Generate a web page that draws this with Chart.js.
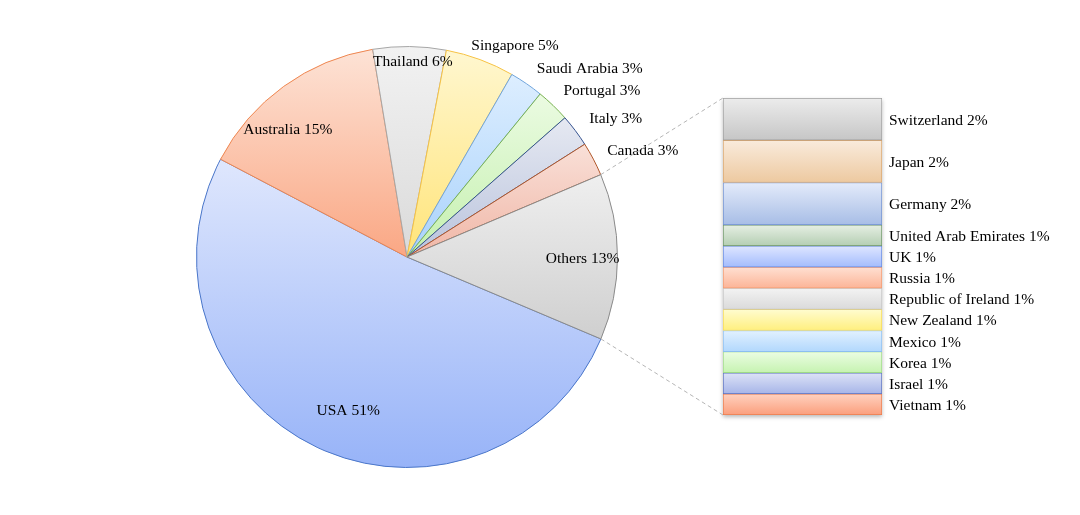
<!DOCTYPE html>
<html lang="en">
<head>
<meta charset="UTF-8">
<title>Pie of bar</title>
<script src="https://cdn.jsdelivr.net/npm/chart.js"></script>
<style>
  html, body { margin: 0; padding: 0; background: #fff; overflow: hidden; }
  .wrap { position: relative; width: 1080px; height: 515px; }
  .wrap canvas { position: absolute; left: 0; top: 0; }
</style>
</head>
<body>
<div class="wrap">
  <canvas id="pieChart" width="1080" height="515"></canvas>
  <canvas id="barChart" width="1080" height="515"></canvas>
</div>
<script>
// data (percent of total)
const mainCountries = ['USA', 'Australia', 'Thailand', 'Singapore', 'Saudi Arabia', 'Portugal', 'Italy', 'Canada'];
const mainValues = [51.3, 14.7, 5.6, 5.3, 2.6, 2.6, 2.5, 2.6];
const otherCountries = ['Switzerland', 'Japan', 'Germany', 'United Arab Emirates', 'UK', 'Russia',
  'Republic of Ireland', 'New Zealand', 'Mexico', 'Korea', 'Israel', 'Vietnam'];
const otherValues = [1.7, 1.7, 1.7, 0.85, 0.85, 0.85, 0.85, 0.85, 0.85, 0.85, 0.85, 0.85];

const othersTotal = otherValues.reduce((a, b) => a + b, 0);
const pieNames = mainCountries.concat(['Others']);
const pieValues = mainValues.concat([othersTotal]);
const pct = v => Math.round(v) + '%';

// styles
const FONT = '15.5px "Liberation Serif", "Times New Roman", serif';
const PIE_ROTATION = 112.9;
const pieFills = [
  ['#dfe7fd', '#97b3f8'], ['#fde3d6', '#faa784'], ['#f2f2f2', '#dadada'],
  ['#fff7d0', '#ffe479'], ['#ddeeff', '#a9d2fb'], ['#ebfbe2', '#c4f0ae'],
  ['#e6e9f2', '#b9c3dc'], ['#f9e0d8', '#f0b6a6'], ['#efefef', '#cfcfcf']
];
const pieBorders = ['#4a76c9', '#ee8650', '#a6a6a6', '#f6c244', '#6fa4dc', '#78b150', '#35528f', '#b0572a', '#8a8a8a'];
// label spot: [fraction of radius, angle in degrees]
const pieLabelSpots = [[0.78, 111], [0.83, 227], [0.93, 271.7], [1.13, 297], [1.25, 314],
  [1.22, 319.4], [1.19, 326.4], [1.23, 335.6], [0.834, 0.3]];

const barFills = [
  ['#ececec', '#c6c6c6'], ['#f9ebdc', '#edc9a0'], ['#e4ebfa', '#a7bde6'], ['#e6efe4', '#b4ceb2'],
  ['#dfe6ff', '#a3bcfd'], ['#ffe0d2', '#fcb497'], ['#f3f3f3', '#dadada'], ['#fffcd0', '#ffef7e'],
  ['#e2f1ff', '#b2d8fd'], ['#ebfde3', '#c6f3b1'], ['#dde3f7', '#a7b5e8'], ['#ffd2c0', '#fb9e7c']
];
const barBorders = ['#a0a0a0', '#d9a56b', '#6e8fd0', '#6e9668', '#6489e0', '#f39a6f',
  '#c5c5c5', '#f7da52', '#8bbef0', '#9ed987', '#5b71bf', '#eb7c4c'];

function sliceGradient(context) {
  const i = context.dataIndex;
  const chart = context.chart, area = chart.chartArea;
  if (!area) return pieFills[i][1];
  const cx = (area.left + area.right) / 2, cy = (area.top + area.bottom) / 2;
  const r = Math.min(area.width, area.height) / 2;
  const total = pieValues.reduce((a, b) => a + b, 0);
  let a0 = (PIE_ROTATION - 90) * Math.PI / 180;
  for (let k = 0; k < i; k++) a0 += pieValues[k] / total * 2 * Math.PI;
  const a1 = a0 + pieValues[i] / total * 2 * Math.PI;
  let yMin = cy, yMax = cy;
  for (let s = 0; s <= 60; s++) {
    const y = cy + r * Math.sin(a0 + (a1 - a0) * s / 60);
    yMin = Math.min(yMin, y); yMax = Math.max(yMax, y);
  }
  const g = chart.ctx.createLinearGradient(0, yMin, 0, yMax);
  g.addColorStop(0, pieFills[i][0]);
  g.addColorStop(1, pieFills[i][1]);
  return g;
}

function barGradient(context) {
  const i = context.datasetIndex;
  const chart = context.chart, y = chart.scales.y;
  if (!y || !chart.chartArea) return barFills[i][1];
  let s = 0;
  for (let k = 0; k < i; k++) s += otherValues[k];
  const y0 = y.getPixelForValue(s), y1 = y.getPixelForValue(s + otherValues[i]);
  const g = chart.ctx.createLinearGradient(0, Math.min(y0, y1), 0, Math.max(y0, y1));
  g.addColorStop(0, barFills[i][0]);
  g.addColorStop(1, barFills[i][1]);
  return g;
}

const pieLabels = {
  id: 'pieLabels',
  afterDatasetsDraw(chart) {
    const ctx = chart.ctx;
    ctx.save();
    ctx.font = FONT;
    ctx.fillStyle = '#000';
    ctx.textAlign = 'center';
    ctx.textBaseline = 'middle';
    chart.getDatasetMeta(0).data.forEach((arc, i) => {
      const p = arc.getProps(['x', 'y', 'outerRadius'], true);
      const a = pieLabelSpots[i][1] * Math.PI / 180;
      const d = p.outerRadius * pieLabelSpots[i][0];
      ctx.fillText(pieNames[i] + ' ' + pct(pieValues[i]), p.x + d * Math.cos(a), p.y + d * Math.sin(a) + 1);
    });
    ctx.restore();
  }
};

const pieChart = new Chart(document.getElementById('pieChart'), {
  type: 'pie',
  data: {
    labels: pieNames,
    datasets: [{
      data: pieValues,
      backgroundColor: sliceGradient,
      borderColor: pieBorders,
      borderWidth: 1
    }]
  },
  options: {
    responsive: false,
    animation: false,
    events: [],
    rotation: PIE_ROTATION,
    layout: { padding: { left: 196, right: 462, top: 46, bottom: 47 } },
    plugins: { legend: { display: false }, tooltip: { enabled: false } }
  },
  plugins: [pieLabels]
});

function stackBox(chart) {
  let top = Infinity, bottom = -Infinity, left = 0, right = 0;
  chart.data.datasets.forEach((ds, i) => {
    const p = chart.getDatasetMeta(i).data[0].getProps(['x', 'y', 'base', 'width'], true);
    left = p.x - p.width / 2;
    right = p.x + p.width / 2;
    top = Math.min(top, p.y, p.base);
    bottom = Math.max(bottom, p.y, p.base);
  });
  return { top, bottom, left, right };
}

const barExtras = {
  id: 'barExtras',
  beforeDatasetsDraw(chart) {
    // soft drop shadow under the stacked bar
    const b = stackBox(chart);
    const ctx = chart.ctx;
    ctx.save();
    ctx.shadowColor = 'rgba(0,0,0,0.28)';
    ctx.shadowBlur = 4;
    ctx.shadowOffsetY = 2;
    ctx.fillStyle = '#fff';
    ctx.fillRect(b.left, b.top, b.right - b.left, b.bottom - b.top);
    ctx.restore();
  },
  afterDatasetsDraw(chart) {
    const ctx = chart.ctx;
    const b = stackBox(chart);
    ctx.save();
    ctx.font = FONT;
    ctx.fillStyle = '#000';
    ctx.textAlign = 'left';
    ctx.textBaseline = 'middle';
    chart.data.datasets.forEach((ds, i) => {
      const p = chart.getDatasetMeta(i).data[0].getProps(['x', 'y', 'base', 'width'], true);
      ctx.fillText(otherCountries[i] + ' ' + pct(otherValues[i]), p.x + p.width / 2 + 7, (p.y + p.base) / 2 + 1.5);
    });
    // connector lines from the Others slice
    const others = pieChart.getDatasetMeta(0).data[pieValues.length - 1];
    const o = others.getProps(['x', 'y', 'startAngle', 'endAngle', 'outerRadius'], true);
    ctx.strokeStyle = '#b5b5b5';
    ctx.lineWidth = 1;
    ctx.setLineDash([4, 3]);
    ctx.beginPath();
    ctx.moveTo(o.x + o.outerRadius * Math.cos(o.startAngle), o.y + o.outerRadius * Math.sin(o.startAngle));
    ctx.lineTo(b.left, b.top);
    ctx.moveTo(o.x + o.outerRadius * Math.cos(o.endAngle), o.y + o.outerRadius * Math.sin(o.endAngle));
    ctx.lineTo(b.left, b.bottom);
    ctx.stroke();
    ctx.restore();
  }
};

new Chart(document.getElementById('barChart'), {
  type: 'bar',
  data: {
    labels: ['Others'],
    datasets: otherCountries.map((name, i) => ({
      label: name,
      data: [otherValues[i]],
      backgroundColor: barGradient,
      borderColor: barBorders[i],
      borderWidth: 1,
      borderSkipped: false,
      barPercentage: 1,
      categoryPercentage: 1
    }))
  },
  options: {
    responsive: false,
    animation: false,
    events: [],
    layout: { padding: { left: 723, right: 198, top: 98, bottom: 100 } },
    scales: {
      x: { display: false, stacked: true },
      y: { display: false, stacked: true, reverse: true, min: 0, max: othersTotal }
    },
    plugins: { legend: { display: false }, tooltip: { enabled: false } }
  },
  plugins: [barExtras]
});
</script>
</body>
</html>
